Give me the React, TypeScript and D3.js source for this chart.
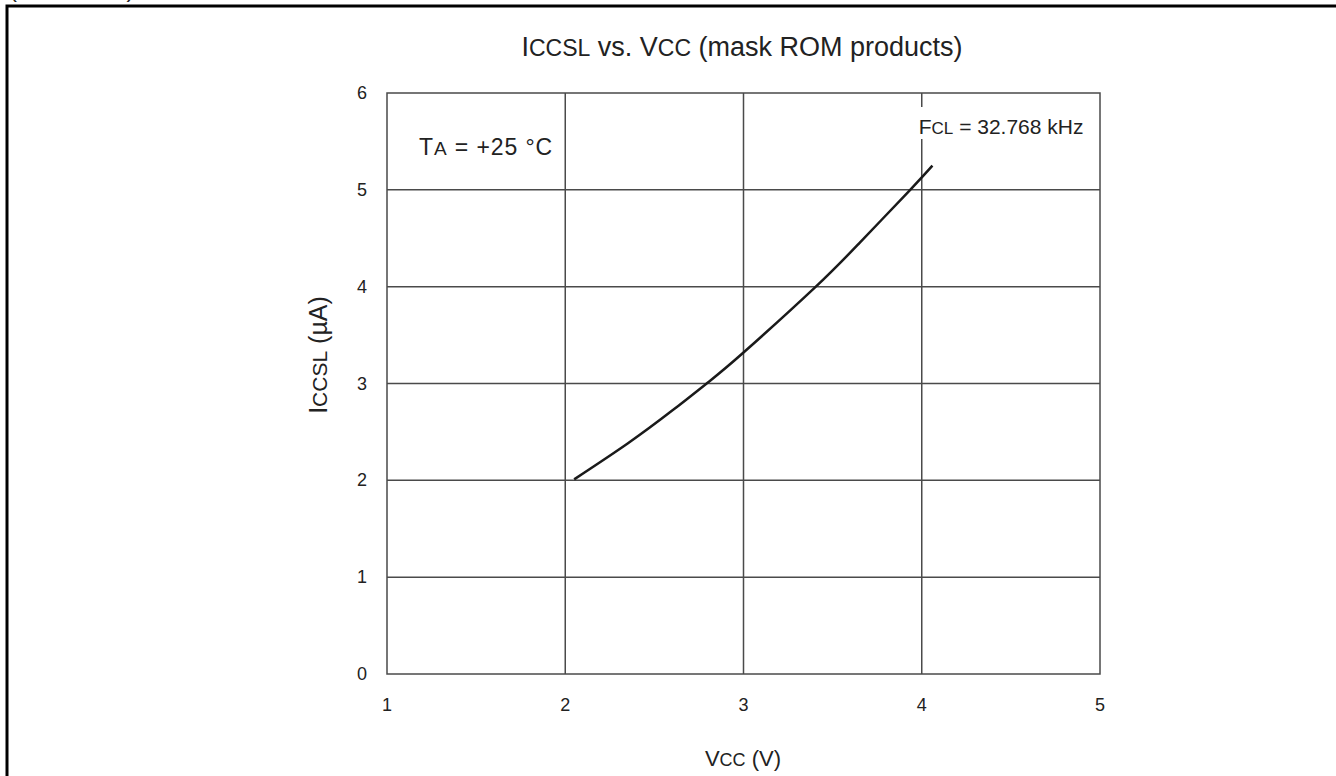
import * as React from 'react';
import { scaleLinear, line, curveNatural } from 'd3';

// values
const vccValues = [2.05, 2.35, 2.6, 2.8, 3.0, 3.4, 3.65, 3.93, 4.06];
const iccslValues = [2.01, 2.38, 2.72, 3.01, 3.32, 3.99, 4.45, 4.99, 5.25];
const xTicks = [1, 2, 3, 4, 5];
const yTicks = [0, 1, 2, 3, 4, 5, 6];

const FONT = '"Liberation Sans", Arial, Helvetica, sans-serif';
const GRID = '#4a4a4a';

const App = () => {
    const margin = { left: 387, right: 1100, top: 93, bottom: 674 };
    const x = scaleLinear().domain([1, 5]).range([margin.left, margin.right]);
    const y = scaleLinear().domain([0, 6]).range([margin.bottom, margin.top]);

    const pts = vccValues.map((v, i) => [v, iccslValues[i]] as [number, number]);
    const path = line<[number, number]>()
        .x(d => x(d[0]))
        .y(d => y(d[1]))
        .curve(curveNatural)(pts) || '';

    return (
        <svg width={1336} height={776} style={{ position: 'absolute', left: 0, top: 0, background: 'white' }}
            fontFamily={FONT}>
            {/* cut-off caption from the page above */}
            <text x={9} y={-3} fontSize={24} fill="#222">(Continued)</text>
            <path d="M7,776 V6 H1336" fill="none" stroke="black" strokeWidth={3} />

            <text x={742} y={56} fontSize={27} textAnchor="middle" fill="#222">
                I<tspan fontSize={23}>CCSL</tspan> vs. V<tspan fontSize={23}>CC</tspan> (mask ROM products)
            </text>

            {/* grid */}
            <g stroke={GRID} strokeWidth={1.5}>
                {xTicks.slice(1, -1).map(t => (
                    <line key={'gx' + t} x1={x(t)} x2={x(t)} y1={y(6)} y2={y(0)} />
                ))}
                {yTicks.slice(1, -1).map(t => (
                    <line key={'gy' + t} x1={x(1)} x2={x(5)} y1={y(t)} y2={y(t)} />
                ))}
            </g>

            {/* label box covering grid line */}
            <rect x={x(4) - 4} y={107} width={178} height={32} fill="white" />
            <text x={x(4) - 3} y={134} fontSize={21} fill="#222">
                F<tspan fontSize={17}>CL</tspan> = 32.768 kHz
            </text>
            <text x={419} y={155} fontSize={23} fill="#222" letterSpacing={0.9}>
                T<tspan fontSize={19}>A</tspan> = +25 °C
            </text>

            <rect x={x(1)} y={y(6)} width={x(5) - x(1)} height={y(0) - y(6)} fill="none" stroke={GRID} strokeWidth={1.5} />

            <path d={path} fill="none" stroke="#1a1a1a" strokeWidth={2.5} />

            {/* tick labels */}
            {xTicks.map(t => (
                <text key={'tx' + t} x={x(t)} y={711} fontSize={18} textAnchor="middle" fill="#222">{t}</text>
            ))}
            {yTicks.map(t => (
                <text key={'ty' + t} x={367} y={y(t) + 6} fontSize={18} textAnchor="end" fill="#222">{t}</text>
            ))}

            <text x={743} y={766} fontSize={22} textAnchor="middle" fill="#222">
                V<tspan fontSize={18}>CC</tspan> (V)
            </text>
            <text transform="translate(327,355) rotate(-90)" fontSize={25} textAnchor="middle" fill="#222">
                I<tspan fontSize={21}>CCSL</tspan> (µA)
            </text>
        </svg>
    );
};

export default App;
